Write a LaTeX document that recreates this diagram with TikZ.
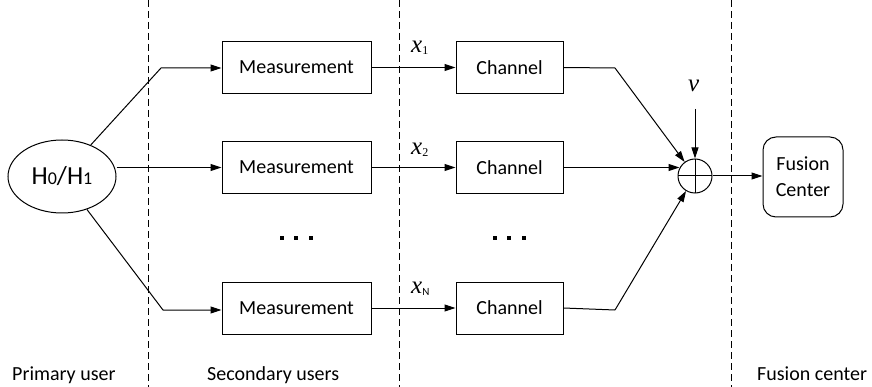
\documentclass[tikz,border=0pt]{standalone}
\usepackage{fontspec}
\setmainfont{Carlito}
\newfontfamily\tnr{Liberation Serif}
\usetikzlibrary{arrows.meta,shapes.geometric,calc}

\tikzset{
  box/.style={draw, line width=1pt, minimum height=52pt, inner sep=0pt,
    font=\fontsize{20}{26}\selectfont},
  meas/.style={box, minimum width=149pt},
  chan/.style={box, minimum width=107pt},
  arr/.style={line width=1pt, -{Triangle[length=11pt,width=7pt]}},
  wire/.style={line width=1pt},
  sep/.style={line width=1pt, dash pattern=on 7pt off 4pt},
  var/.style={inner sep=0pt, anchor=base west, font=\fontsize{25}{25}\selectfont\tnr\itshape},
  region/.style={inner sep=0pt, anchor=base west, font=\fontsize{20}{24}\selectfont},
}
\newcommand{\subdig}[1]{\raisebox{-2pt}{\fontsize{12}{12}\selectfont\upshape #1}}

\begin{document}
\begin{tikzpicture}[x=1pt,y=-1pt]
  \useasboundingbox (0,0) rectangle (872,387);

  % region separators
  \foreach \xx in {148,399,731}
    \draw[sep] (\xx,0) -- (\xx,387);

  % primary user
  \node[draw, ellipse, line width=1pt, minimum width=108pt, minimum height=73pt, inner sep=0pt,
        font=\fontsize{26}{26}\selectfont] (src) at (62,176.5)
        {H{\fontsize{18}{18}\selectfont 0}/H{\fontsize{18}{18}\selectfont 1}};

  % secondary users
  \node[meas] (m1) at (296.5,67.5) {Measurement};
  \node[meas] (m2) at (296.5,167.5) {Measurement};
  \node[meas] (mN) at (296.5,308) {Measurement};

  \node[chan] (c1) at (509.5,67.5) {Channel};
  \node[chan] (c2) at (509.5,167.5) {Channel};
  \node[chan] (cN) at (509.5,308) {Channel};

  % ellipsis marks
  \foreach \xx in {282,296,311,495,509,524}
    \fill (\xx-2,236) rectangle (\xx+2,240);

  % adder and fusion center
  \node[draw, circle, line width=1pt, minimum size=34pt, inner sep=0pt,
        path picture={
          \draw[line width=1pt] (path picture bounding box.north) -- (path picture bounding box.south);
          \draw[line width=1pt] (path picture bounding box.west) -- (path picture bounding box.east);
        }] (sum) at (695,176) {};
  \node[draw, rounded corners=13pt, line width=1pt, minimum width=80pt, minimum height=80pt,
        inner sep=0pt, align=center, font=\fontsize{20}{26}\selectfont] (fc) at (803,177)
        {Fusion\\Center};

  % noise input
  \node[var] (v) at (688,92) {v};
  \coordinate (vin) at (695,109);

  % bend points
  \coordinate (b1) at (161,68);
  \coordinate (bN) at (163,310);
  \coordinate (r1) at (615,68);
  \coordinate (rN) at (615,310);

  % primary user to measurements
  \draw[arr] (src) -- (b1) -- (b1 -| m1.west);
  \draw[arr] (src.east |- m2.west) -- (m2.west);
  \draw[arr] (src) -- (bN) -- (bN -| mN.west);

  % measurements to channels
  \draw[arr] (m1.east) -- (c1.west);
  \draw[arr] (m2.east) -- (c2.west);
  \draw[arr] (mN.east) -- (cN.west);

  % measurement outputs
  \node[var] (x1) at (411,53) {x\subdig{\tnr 1}};
  \node[var] (x2) at (411,155) {x\subdig{\tnr 2}};
  \node[var] (xN) at (411,293) {x\subdig{\rmfamily\normalfont\fontsize{11}{11}\selectfont N}};

  % channels to adder
  \draw[wire] (c1.east) -- (r1);
  \draw[arr] (r1) -- (sum);
  \draw[arr] (c2.east) -- (c2.east -| sum.152);
  \draw[wire] (cN.east) -- (rN);
  \draw[arr] (rN) -- (sum);
  \draw[arr] (vin) -- (sum.north);
  \draw[arr] (sum.east) -- (sum.east -| fc.west);

  % region labels
  \node[region] (lp) at (12,380) {Primary user};
  \node[region] (ls) at (207,380) {Secondary users};
  \node[region] (lf) at (757,380) {Fusion center};
\end{tikzpicture}
\end{document}
